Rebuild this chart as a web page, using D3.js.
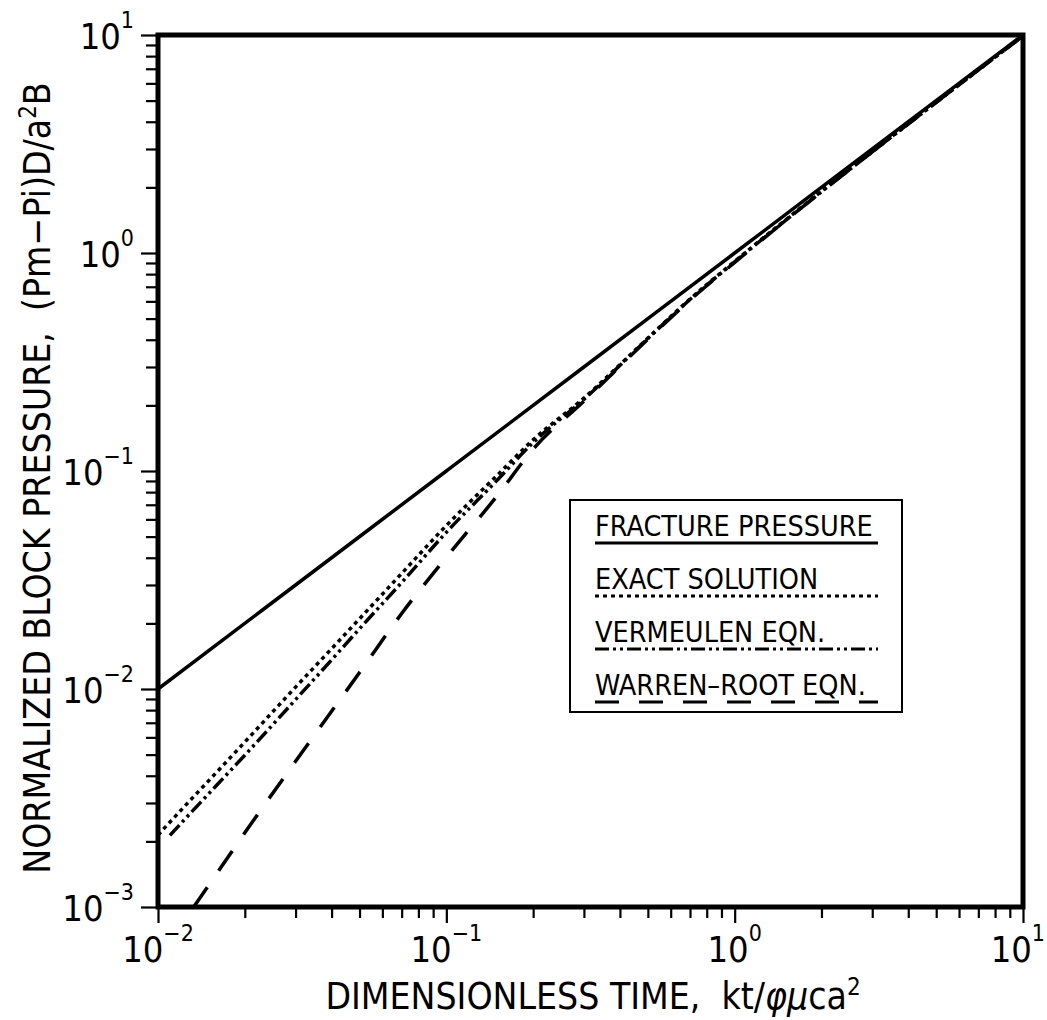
<!DOCTYPE html>
<html>
<head>
<meta charset="utf-8">
<script src="https://cdn.jsdelivr.net/npm/d3@7"></script>
<style>
  body { margin: 0; background: #fff; }
  svg { display: block; }
  text { font-family: "Liberation Sans Narrow", "DejaVu Sans Condensed", "Liberation Sans", sans-serif; fill: #000; white-space: pre; }
</style>
</head>
<body>
<svg></svg>
<script>
// Tick labels (powers of ten)
const xDecades = [-2, -1, 0, 1];
const yDecades = [-3, -2, -1, 0, 1];

// Fracture pressure (solid)
const fractureX = [0.01, 0.03, 0.1, 0.3, 1, 3, 10];
const fractureY = [0.01, 0.03, 0.1, 0.3, 1, 3, 10];

// Exact solution (dotted)
const exactX = [0.01, 0.0125, 0.015, 0.02, 0.03, 0.04, 0.05, 0.07, 0.1, 0.15, 0.2, 0.3, 0.5, 0.7, 1, 2, 3, 5, 10];
const exactY = [0.00214, 0.00294, 0.0038, 0.00571, 0.0102, 0.0153, 0.0210, 0.0339, 0.0562, 0.0955, 0.139, 0.216, 0.407, 0.615, 0.915, 1.92, 2.92, 4.92, 9.92];

// Vermeulen eqn. (dash-dot-dot)
const vermX = [0.011, 0.0125, 0.015, 0.02, 0.03, 0.04, 0.05, 0.07, 0.1, 0.15, 0.2, 0.3, 0.5, 0.7, 1, 2, 3, 5, 10];
const vermY = [0.00213, 0.00256, 0.00331, 0.00497, 0.00894, 0.0136, 0.0189, 0.0308, 0.0523, 0.0907, 0.135, 0.213, 0.405, 0.612, 0.91, 1.91, 2.91, 4.91, 9.91];

// Warren-Root eqn. (long dash)
const warrenX = [0.0133, 0.015, 0.02, 0.03, 0.04, 0.05, 0.07, 0.1, 0.15, 0.2, 0.3, 0.5, 0.7, 1, 2, 3, 5, 10];
const warrenY = [0.001, 0.00126, 0.00219, 0.00466, 0.0079, 0.0119, 0.0222, 0.0402, 0.0769, 0.126, 0.209, 0.402, 0.608, 0.905, 1.91, 2.91, 4.91, 9.91];

const legendNames = ["FRACTURE PRESSURE", "EXACT SOLUTION", "VERMEULEN EQN.", "WARREN\u2013ROOT EQN."];

const styles = [
  { dash: null, width: 3.5 },
  { dash: "4,4", width: 3.5 },
  { dash: "14,4,3,4,3,4", width: 3.5 },
  { dash: "24,20", width: 3.5 }
];

const series = [
  { x: fractureX, y: fractureY },
  { x: exactX, y: exactY },
  { x: vermX, y: vermY },
  { x: warrenX, y: warrenY }
];

// Plot sizes
const margin = { l: 158, r: 24, t: 35, b: 113 };
const W = 1047, H = 1020;
const width = W - margin.l - margin.r;
const height = H - margin.t - margin.b;

const svg = d3.select("svg").attr("width", W).attr("height", H);
const g = svg.append("g").attr("transform", `translate(${margin.l}, ${margin.t})`);

const xScale = d3.scaleLog().domain([1e-2, 1e1]).range([0, width]);
const yScale = d3.scaleLog().domain([1e-3, 1e1]).range([height, 0]);

// minor + major ticks
function logTicks(lo, hi) {
  const t = [];
  for (let e = lo; e < hi; e++) for (let m = 1; m < 10; m++) t.push(m * Math.pow(10, e));
  t.push(Math.pow(10, hi));
  return t;
}
const xTickVals = logTicks(-2, 1);
const yTickVals = logTicks(-3, 1);
const isMajor = v => Math.abs(Math.log10(v) - Math.round(Math.log10(v))) < 1e-9;

const xAxis = g.append("g")
  .attr("transform", `translate(0, ${height})`)
  .call(d3.axisBottom(xScale).tickValues(xTickVals).tickSize(11).tickFormat(""));
xAxis.select(".domain").remove();
xAxis.selectAll(".tick line").attr("stroke", "#000").attr("stroke-width", 2.2)
  .attr("y2", d => isMajor(d) ? 16 : 11);

const yAxis = g.append("g")
  .call(d3.axisLeft(yScale).tickValues(yTickVals).tickSize(12).tickFormat(""));
yAxis.select(".domain").remove();
yAxis.selectAll(".tick line").attr("stroke", "#000").attr("stroke-width", 2.2)
  .attr("x2", d => isMajor(d) ? -17 : -12);

// tick labels
const lastX = xDecades[xDecades.length - 1];
const xLab = g.append("g").selectAll("text").data(xDecades).enter().append("text")
  .attr("x", d => d === lastX ? width + 22 : xScale(Math.pow(10, d)))
  .attr("y", height + 55)
  .attr("text-anchor", d => d === lastX ? "end" : "middle")
  .style("font-size", "36px");
xLab.append("tspan").text("10");
xLab.append("tspan").attr("dy", -21).style("font-size", "23px")
  .text(d => d < 0 ? "\u2212" + (-d) : String(d));

const yLab = g.append("g").selectAll("text").data(yDecades).enter().append("text")
  .attr("x", -24)
  .attr("y", d => yScale(Math.pow(10, d)) + 14)
  .attr("text-anchor", "end")
  .style("font-size", "36px");
yLab.append("tspan").text("10");
yLab.append("tspan").attr("dy", -21).style("font-size", "23px")
  .text(d => d < 0 ? "\u2212" + (-d) : String(d));

// clip
svg.append("defs").append("clipPath").attr("id", "clip")
  .append("rect").attr("width", width).attr("height", height);

const line = d3.line()
  .x(d => xScale(d[0]))
  .y(d => yScale(d[1]))
  .curve(d3.curveMonotoneX);

const plot = g.append("g").attr("clip-path", "url(#clip)");
series.forEach((s, i) => {
  plot.append("path")
    .datum(s.x.map((v, j) => [v, s.y[j]]))
    .attr("d", line)
    .attr("fill", "none")
    .attr("stroke", "#000")
    .attr("stroke-width", styles[i].width)
    .attr("stroke-dasharray", styles[i].dash);
});

// frame
g.append("rect")
  .attr("width", width).attr("height", height)
  .attr("fill", "none").attr("stroke", "#000").attr("stroke-width", 5);

// legend
const lg = svg.append("g").attr("transform", "translate(570, 500)");
lg.append("rect").attr("width", 332).attr("height", 212)
  .attr("fill", "#fff").attr("stroke", "#000").attr("stroke-width", 2);
legendNames.forEach((name, i) => {
  const y0 = 36 + i * 53;
  lg.append("text").attr("x", 25).attr("y", y0)
    .style("font-size", "28.5px").text(name);
  lg.append("line")
    .attr("x1", 25).attr("x2", 308)
    .attr("y1", y0 + 7).attr("y2", y0 + 7)
    .attr("stroke", "#000").attr("stroke-width", 3)
    .attr("stroke-dasharray", styles[i].dash);
});

// axis titles
const xt = svg.append("text")
  .attr("x", 593).attr("y", 1009)
  .attr("text-anchor", "middle")
  .style("font-size", "37px");
xt.append("tspan").text("DIMENSIONLESS TIME,  kt/");
xt.append("tspan").style("font-style", "italic").text("\u03c6\u03bc");
xt.append("tspan").text("ca");
xt.append("tspan").attr("dy", -14).style("font-size", "24px").text("2");

const yt = svg.append("text")
  .attr("transform", "translate(50, 478) rotate(-90)")
  .attr("text-anchor", "middle")
  .style("font-size", "37px");
yt.append("tspan").text("NORMALIZED BLOCK PRESSURE,  (Pm\u2212Pi)D/a");
yt.append("tspan").attr("dy", -14).style("font-size", "24px").text("2");
yt.append("tspan").attr("dy", 14).text("B");
</script>
</body>
</html>
